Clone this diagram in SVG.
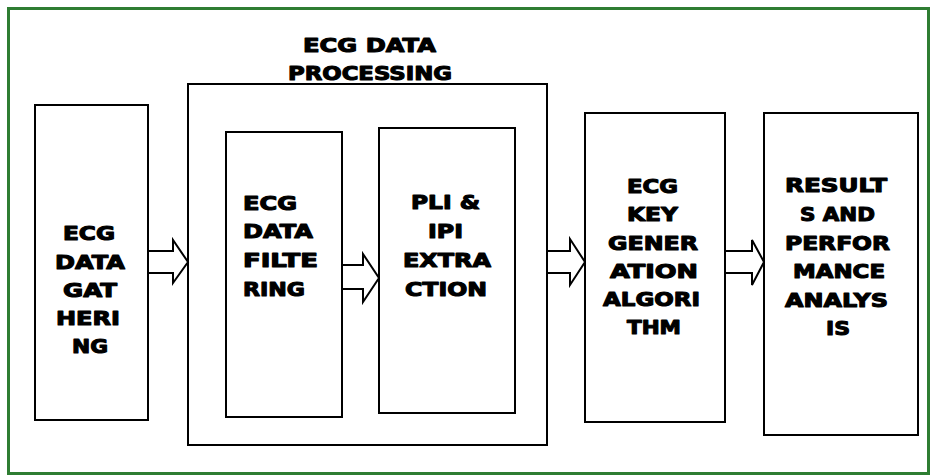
<svg xmlns="http://www.w3.org/2000/svg" width="932" height="476" viewBox="0 0 932 476">
<style>
.box{fill:#fff;stroke:#000;stroke-width:2}
.arr{fill:#fff;stroke:#000;stroke-width:2;stroke-linejoin:miter}
text{font-family:"DejaVu Sans","Liberation Sans",sans-serif;font-weight:bold;font-size:19px;fill:#000;stroke:#000;stroke-width:1.1;stroke-linejoin:round}
</style>
<rect x="0" y="0" width="932" height="476" fill="#fff"/>
<rect x="8.5" y="8.5" width="920" height="465" fill="none" stroke="#2e7d32" stroke-width="3"/>
<g id="title">
<text x="303" y="52" textLength="133" lengthAdjust="spacingAndGlyphs">ECG DATA</text>
<text x="288" y="80" textLength="164" lengthAdjust="spacingAndGlyphs">PROCESSING</text>
</g>
<g id="processing">
<rect class="box" x="188" y="84" width="359" height="361"/>
</g>
<g id="gathering">
<rect class="box" x="35" y="105" width="113" height="315"/>
<text x="63" y="240" textLength="52" lengthAdjust="spacingAndGlyphs">ECG</text>
<text x="55" y="269" textLength="70" lengthAdjust="spacingAndGlyphs">DATA</text>
<text x="63" y="297" textLength="54" lengthAdjust="spacingAndGlyphs">GAT</text>
<text x="56" y="325" textLength="64" lengthAdjust="spacingAndGlyphs">HERI</text>
<text x="72" y="353" textLength="36" lengthAdjust="spacingAndGlyphs">NG</text>
</g>
<g id="filtering">
<rect class="box" x="226" y="132" width="116" height="285"/>
<text x="243" y="210" textLength="54" lengthAdjust="spacingAndGlyphs">ECG</text>
<text x="243" y="238" textLength="70" lengthAdjust="spacingAndGlyphs">DATA</text>
<text x="243" y="267" textLength="75" lengthAdjust="spacingAndGlyphs">FILTE</text>
<text x="243" y="296" textLength="62" lengthAdjust="spacingAndGlyphs">RING</text>
</g>
<g id="extraction">
<rect class="box" x="379" y="128" width="136" height="285"/>
<text x="411" y="209" textLength="69" lengthAdjust="spacingAndGlyphs">PLI &amp;</text>
<text x="428" y="238" textLength="35" lengthAdjust="spacingAndGlyphs">IPI</text>
<text x="403" y="267" textLength="88" lengthAdjust="spacingAndGlyphs">EXTRA</text>
<text x="405" y="296" textLength="82" lengthAdjust="spacingAndGlyphs">CTION</text>
</g>
<g id="keygen">
<rect class="box" x="585" y="113" width="140" height="309"/>
<text x="627" y="193" textLength="51" lengthAdjust="spacingAndGlyphs">ECG</text>
<text x="627" y="221" textLength="51" lengthAdjust="spacingAndGlyphs">KEY</text>
<text x="608" y="250" textLength="90" lengthAdjust="spacingAndGlyphs">GENER</text>
<text x="610" y="278" textLength="88" lengthAdjust="spacingAndGlyphs">ATION</text>
<text x="603" y="306" textLength="97" lengthAdjust="spacingAndGlyphs">ALGORI</text>
<text x="627" y="334" textLength="54" lengthAdjust="spacingAndGlyphs">THM</text>
</g>
<g id="results">
<rect class="box" x="764" y="113" width="154" height="322"/>
<text x="785" y="192" textLength="102" lengthAdjust="spacingAndGlyphs">RESULT</text>
<text x="800" y="221" textLength="75" lengthAdjust="spacingAndGlyphs">S AND</text>
<text x="785" y="250" textLength="105" lengthAdjust="spacingAndGlyphs">PERFOR</text>
<text x="793" y="278" textLength="92" lengthAdjust="spacingAndGlyphs">MANCE</text>
<text x="785" y="307" textLength="103" lengthAdjust="spacingAndGlyphs">ANALYS</text>
<text x="826" y="335" textLength="24" lengthAdjust="spacingAndGlyphs">IS</text>
</g>
<g id="connectors">
<polygon class="arr" points="148,251 173,251 173,240 188,262 173,283 173,273 148,273"/>
<polygon class="arr" points="342,265 363,265 363,254 379,278 363,302 363,289 342,289"/>
<polygon class="arr" points="547,251 570,251 570,239 585,262 570,285 570,273 547,273"/>
<polygon class="arr" points="725,251 752,251 752,240 764,262 752,285 752,273 725,273"/>
</g>
</svg>
